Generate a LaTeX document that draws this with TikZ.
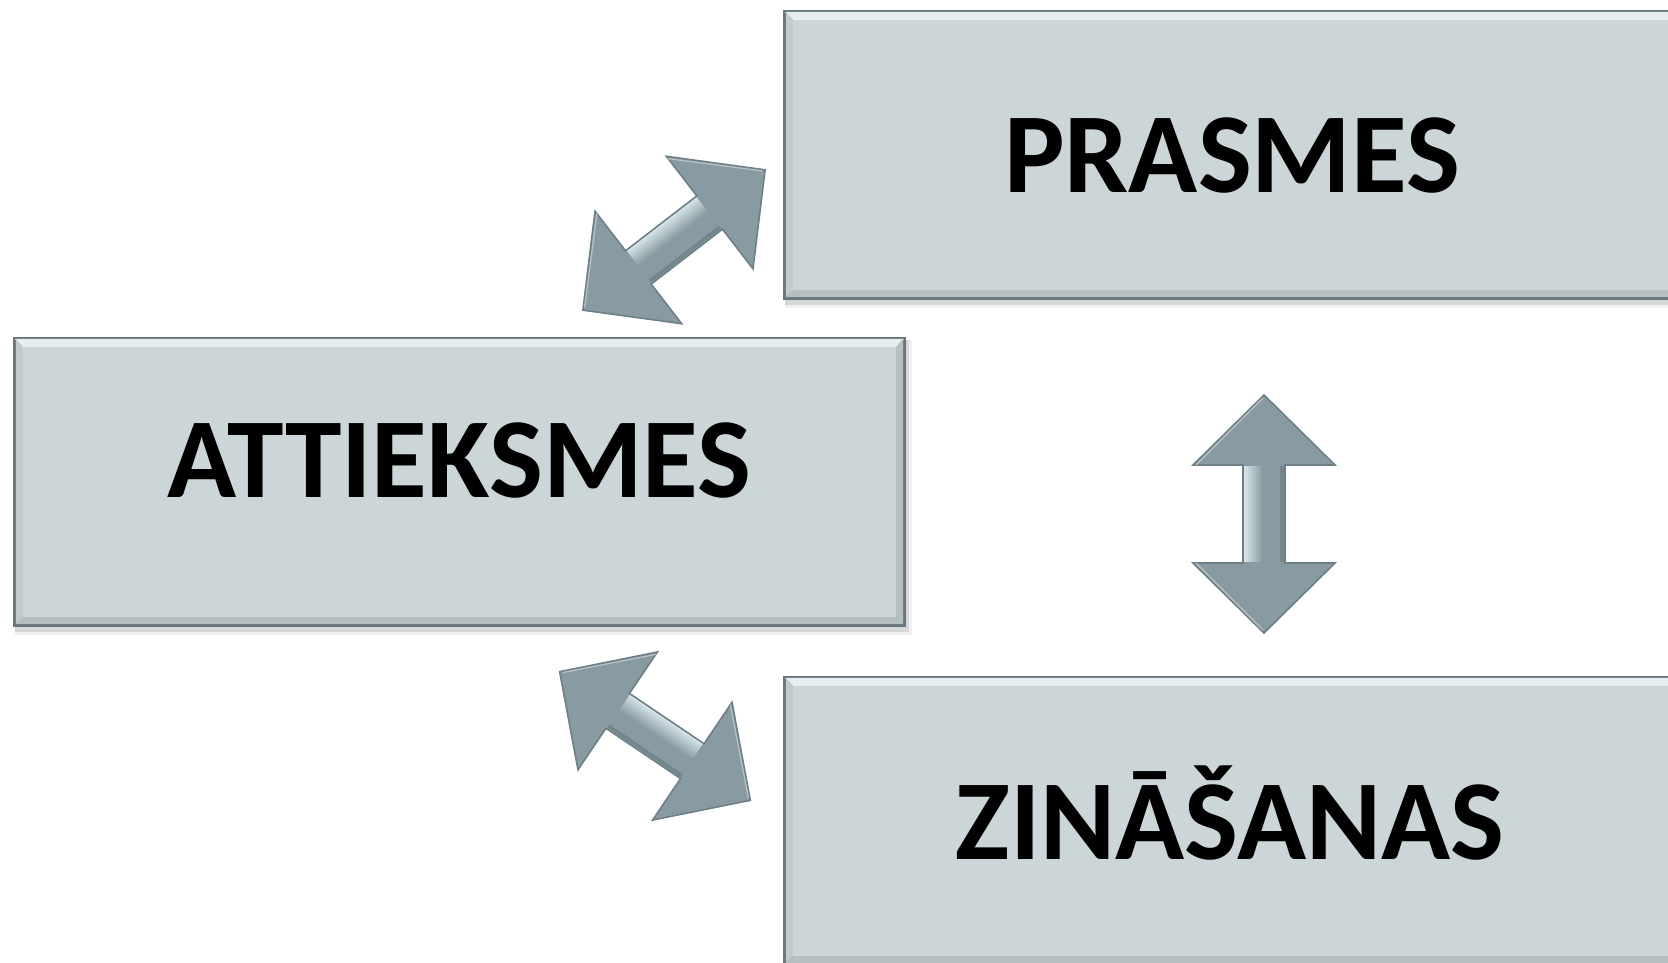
\documentclass[tikz,border=0pt]{standalone}
\usepackage{fontspec}
\setmainfont{Carlito}
\usetikzlibrary{calc}
\definecolor{boxface}{HTML}{CCD5D8}
\definecolor{boxedge}{HTML}{66767C}
\definecolor{bevlight}{HTML}{E6EEF0}
\definecolor{bevleft}{HTML}{C1CBCE}
\definecolor{bevdark}{HTML}{B6C0C3}
\definecolor{arrowfill}{HTML}{889BA2}
\definecolor{arrowedge}{HTML}{6E8087}
\definecolor{arrowhi}{HTML}{D6E4E8}
\newcommand\bevbox[1]{%
  \fill[black, opacity=0.06] ([shift={(2,3)}]#1.north west) rectangle ([shift={(6,8)}]#1.south east);
  \fill[black, opacity=0.10] ([shift={(2,3)}]#1.north west) rectangle ([shift={(3,5)}]#1.south east);
  \fill[boxedge] (#1.north west) rectangle (#1.south east);
  \fill[bevlight] ([shift={(2,2)}]#1.north west) -- ([shift={(-2,2)}]#1.north east) -- ([shift={(-10,10)}]#1.north east) -- ([shift={(10,10)}]#1.north west) -- cycle;
  \fill[bevleft] ([shift={(3,2)}]#1.north west) -- ([shift={(10,10)}]#1.north west) -- ([shift={(10,-10)}]#1.south west) -- ([shift={(3,-3)}]#1.south west) -- cycle;
  \fill[bevdark] ([shift={(3,-3)}]#1.south west) -- ([shift={(10,-10)}]#1.south west) -- ([shift={(-10,-10)}]#1.south east) -- ([shift={(-3,-3)}]#1.south east) -- cycle;
  \fill[bevdark] ([shift={(-3,2)}]#1.north east) -- ([shift={(-10,10)}]#1.north east) -- ([shift={(-10,-10)}]#1.south east) -- ([shift={(-3,-3)}]#1.south east) -- cycle;
  \fill[boxface] ([shift={(10,10)}]#1.north west) rectangle ([shift={(-10,-10)}]#1.south east);
}
\begin{document}
\begin{tikzpicture}[x=1pt,y=-1pt,
  boxnode/.style={rectangle, inner sep=0pt, draw=none},
  lbl/.style={anchor=base, inner sep=0pt, font=\fontsize{114}{120}\selectfont\bfseries, text=black},
  pics/dbl/.style={code={
     \fill[arrowfill, draw=arrowedge, line width=1.6pt, line join=miter]
       (-#1,0) -- (-#1+70,-71) -- (-#1+70,-21) -- (#1-70,-21) -- (#1-70,-71) -- (#1,0)
       -- (#1-70,71) -- (#1-70,21) -- (-#1+70,21) -- (-#1+70,71) -- cycle;
     \draw[arrowfill!60!white, line width=1.2pt]
       (-#1+3,-1) -- (-#1+70,-68) (#1-70,-68) -- (#1-3,-1);
     \foreach \i in {0,...,8} {
       \pgfmathsetmacro\pct{100-11*\i}
       \fill[arrowhi!\pct!arrowfill] (-#1+71,-20+2*\i) rectangle (#1-71,-18+2*\i);
     }
     \fill[arrowedge!80!arrowfill] (-#1+71,19.5) rectangle (#1-71,16);
  }}]
\useasboundingbox (0,0) rectangle (1668,963);
\fill[white] (0,0) rectangle (1668,963);

\node[boxnode, minimum width=907pt, minimum height=290pt] (prasmes) at (1236.5,155) {};
\node[boxnode, minimum width=893pt, minimum height=290pt] (attieksmes) at (459.5,482) {};
\node[boxnode, minimum width=907pt, minimum height=290pt] (zinasanas) at (1236.5,821) {};

\bevbox{prasmes}
\bevbox{attieksmes}
\bevbox{zinasanas}

\node[lbl] (tp) at (1232,193) {PRASMES};
\node[lbl] (ta) at (459,497) {ATTIEKSMES};
\node[lbl] (tz) at (1230,859) {ZINĀŠANAS};

\pic[rotate=37.6] (a1) at (674,240) {dbl=115};
\pic[rotate=-34] (a2) at (655,736) {dbl=115};
\pic[rotate=90] (a3) at (1264,514) {dbl=119};
\end{tikzpicture}
\end{document}
